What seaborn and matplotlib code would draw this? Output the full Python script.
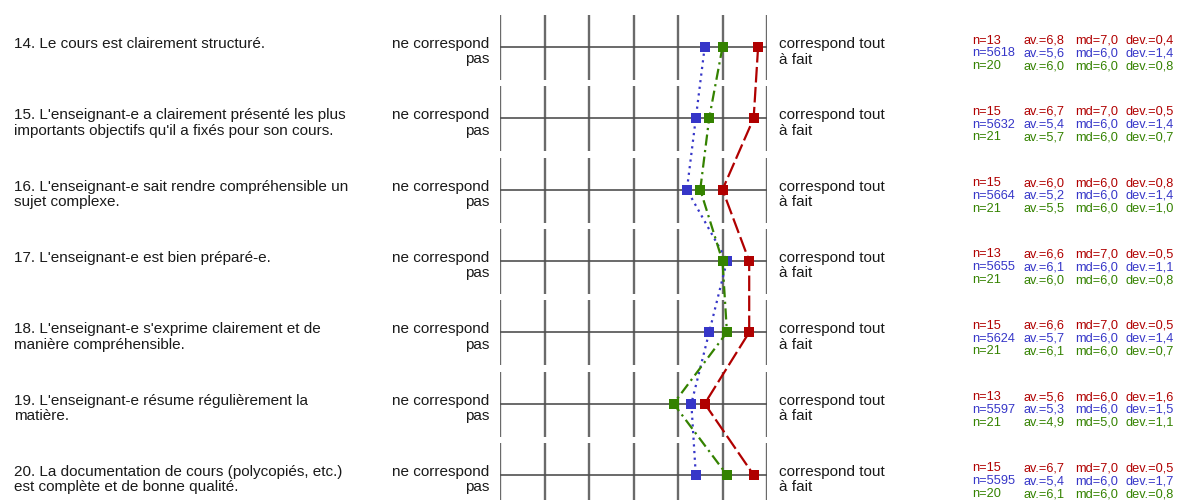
import matplotlib
matplotlib.use("Agg")
import matplotlib.pyplot as plt
import seaborn as sns
import pandas as pd

# questions (one row per item)
items = [
    "14. Le cours est clairement structuré.",
    "15. L'enseignant-e a clairement présenté les plus\nimportants objectifs qu'il a fixés pour son cours.",
    "16. L'enseignant-e sait rendre compréhensible un\nsujet complexe.",
    "17. L'enseignant-e est bien préparé-e.",
    "18. L'enseignant-e s'exprime clairement et de\nmanière compréhensible.",
    "19. L'enseignant-e résume régulièrement la\nmatière.",
    "20. La documentation de cours (polycopiés, etc.)\nest complète et de bonne qualité.",
]
left_pole = "ne correspond\npas"
right_pole = "correspond tout\nà fait"
scale = [1, 2, 3, 4, 5, 6, 7]

# red = this course, blue = all courses, green = comparison group
n_red = [13, 15, 15, 13, 15, 13, 15]
av_red = [6.8, 6.7, 6.0, 6.6, 6.6, 5.6, 6.7]
md_red = [7.0, 7.0, 6.0, 7.0, 7.0, 6.0, 7.0]
dev_red = [0.4, 0.5, 0.8, 0.5, 0.5, 1.6, 0.5]

n_blue = [5618, 5632, 5664, 5655, 5624, 5597, 5595]
av_blue = [5.6, 5.4, 5.2, 6.1, 5.7, 5.3, 5.4]
md_blue = [6.0, 6.0, 6.0, 6.0, 6.0, 6.0, 6.0]
dev_blue = [1.4, 1.4, 1.4, 1.1, 1.4, 1.5, 1.7]

n_green = [20, 21, 21, 21, 21, 21, 20]
av_green = [6.0, 5.7, 5.5, 6.0, 6.1, 4.9, 6.1]
md_green = [6.0, 6.0, 6.0, 6.0, 6.0, 5.0, 6.0]
dev_green = [0.8, 0.7, 1.0, 0.8, 0.7, 1.1, 0.8]

colors = {"blue": "#3636c8", "green": "#348200", "red": "#b00000"}

sns.set_style("white")
plt.rcParams["font.family"] = ["Liberation Sans", "DejaVu Sans"]

W, H = 1178, 500
fig = plt.figure(figsize=(W / 100, H / 100), dpi=100)
x0, x1 = 500, 767
ax = fig.add_axes([x0 / W, 0, (x1 - x0) / W, 1])

row0, step = 47, 71.33
rows = list(range(len(items)))

# grid: broken vertical ticks per item + horizontal line
for r in rows:
    ax.vlines(scale, r - 32 / step, r + 33 / step, color="#6a6a6a", lw=1.7, zorder=1)
    ax.hlines(r, 1, 7, color="#505050", lw=1.2, zorder=1)

df = pd.concat([
    pd.DataFrame({"av": av_blue, "row": rows, "grp": "blue"}),
    pd.DataFrame({"av": av_green, "row": rows, "grp": "green"}),
    pd.DataFrame({"av": av_red, "row": rows, "grp": "red"}),
])

sns.lineplot(data=df, x="av", y="row", hue="grp", style="grp",
             hue_order=["blue", "green", "red"], palette=colors,
             dashes={"blue": (1, 2), "green": (5, 2, 1, 2), "red": (7, 2)},
             markers={"blue": "s", "green": "s", "red": "s"},
             markersize=7, markeredgewidth=0, linewidth=1.6,
             estimator=None, orient="y", legend=False, ax=ax, zorder=3)
ax.set_xlim(1, 7)
ax.set_ylim((H - row0) / step, -row0 / step)
ax.axis("off")


def put(txt, xpix, r, dy, **kw):
    # xpix in figure pixels, dy in pixels below the item row
    ax.annotate(txt, xy=(xpix, r), xycoords=("figure pixels", "data"),
                xytext=(0, -dy), textcoords="offset pixels",
                va="center", annotation_clip=False, **kw)


def fmt(v):
    return f"{v:.1f}".replace(".", ",")


txt_color = "#1a1a1a"
for r in rows:
    for k, line in enumerate(items[r].split("\n")):
        put(line, 14, r, -3 + 15.5 * k, ha="left", fontsize=11, color=txt_color)
    for k, line in enumerate(left_pole.split("\n")):
        put(line, 489, r, -3 + 15.5 * k, ha="right", fontsize=11, color=txt_color)
    for k, line in enumerate(right_pole.split("\n")):
        put(line, 779, r, -3 + 15.5 * k, ha="left", fontsize=11, color=txt_color)

    stats = [
        (n_red, av_red, md_red, dev_red, colors["red"]),
        (n_blue, av_blue, md_blue, dev_blue, colors["blue"]),
        (n_green, av_green, md_green, dev_green, colors["green"]),
    ]
    for k, (n, av, md, dev, c) in enumerate(stats):
        dy = -6.5 + 12.8 * k
        put(f"n={n[r]}", 972, r, dy, ha="left", fontsize=9.2, color=c)
        put(f"av.={fmt(av[r])}", 1023, r, dy, ha="left", fontsize=9.2, color=c)
        put(f"md={fmt(md[r])}", 1075, r, dy, ha="left", fontsize=9.2, color=c)
        put(f"dev.={fmt(dev[r])}", 1125, r, dy, ha="left", fontsize=9.2, color=c)

fig.savefig("out.png", dpi=100)
